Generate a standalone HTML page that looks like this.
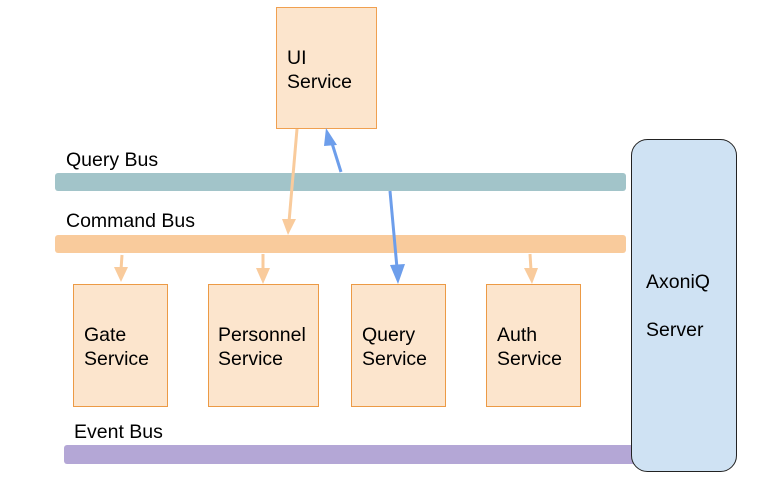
<!DOCTYPE html>
<html><head><meta charset="utf-8"><style>
html,body{margin:0;padding:0;background:#fff;}
svg{display:block;}
text{font-family:"Liberation Sans",Arial,sans-serif;font-size:19.5px;fill:#000;}
</style></head><body>
<svg width="761" height="497" viewBox="0 0 761 497" xmlns="http://www.w3.org/2000/svg">
<rect x="55" y="173" width="571" height="18" rx="3" fill="#a2c4c9"/>
<rect x="55" y="235" width="571" height="18" rx="3" fill="#f9cb9c"/>
<rect x="64" y="445" width="590" height="19" rx="3" fill="#b4a7d6"/>
<text x="66" y="166">Query Bus</text>
<text x="66" y="227">Command Bus</text>
<text x="74" y="438">Event Bus</text>
<rect x="276.5" y="7.5" width="100" height="121" fill="#fce5cd" stroke="#f0a050"/>
<text x="287" y="64">UI</text>
<text x="287" y="88">Service</text>
<rect x="73.5" y="284.5" width="94" height="122" fill="#fce5cd" stroke="#ec9a45"/>
<text x="84" y="341">Gate</text><text x="84" y="365">Service</text>
<rect x="208.5" y="284.5" width="110" height="122" fill="#fce5cd" stroke="#ec9a45"/>
<text x="218" y="341">Personnel</text><text x="218" y="365">Service</text>
<rect x="351.5" y="284.5" width="94" height="122" fill="#fce5cd" stroke="#ec9a45"/>
<text x="362" y="341">Query</text><text x="362" y="365">Service</text>
<rect x="486.5" y="284.5" width="94" height="122" fill="#fce5cd" stroke="#ec9a45"/>
<text x="497" y="341">Auth</text><text x="497" y="365">Service</text>
<rect x="631.5" y="139.5" width="105" height="332" rx="16" fill="#cfe2f3" stroke="#222"/>
<text x="646" y="288">AxoniQ</text>
<text x="646" y="336">Server</text>
<line x1="297" y1="129" x2="289" y2="222" stroke="#f9cb9c" stroke-width="3"/>
<path d="M282,219 L296,219 L288,235 Z" fill="#f9cb9c"/>
<line x1="122" y1="255" x2="121" y2="270" stroke="#f9cb9c" stroke-width="3"/>
<path d="M114,267 L128,267 L121,282 Z" fill="#f9cb9c"/>
<line x1="263" y1="254" x2="263" y2="270" stroke="#f9cb9c" stroke-width="3"/>
<path d="M256,268 L270,268 L263,284 Z" fill="#f9cb9c"/>
<line x1="530" y1="254" x2="531" y2="270" stroke="#f9cb9c" stroke-width="3"/>
<path d="M524,268 L538,268 L532,284 Z" fill="#f9cb9c"/>
<line x1="341" y1="172" x2="331" y2="140" stroke="#6d9eeb" stroke-width="3"/>
<path d="M326,128 L337,145 L324,146 Z" fill="#6d9eeb"/>
<line x1="390" y1="191" x2="397" y2="268" stroke="#6d9eeb" stroke-width="3"/>
<path d="M390,265 L405,264 L398,284 Z" fill="#6d9eeb"/>
</svg>
</body></html>
